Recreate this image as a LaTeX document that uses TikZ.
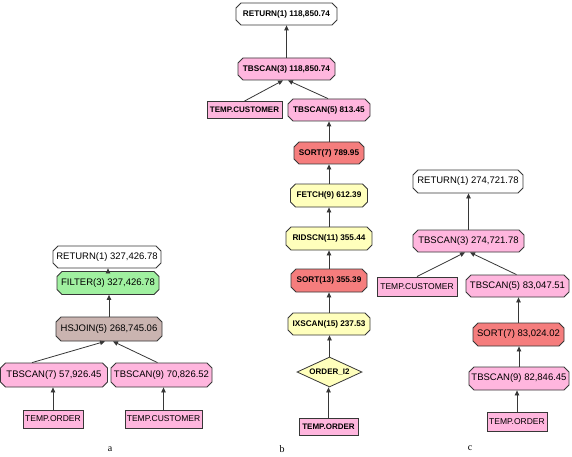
\documentclass[tikz,border=0pt]{standalone}
\usepackage{fontspec}
\setmainfont{Liberation Sans}
\newfontfamily\lblfont{Liberation Serif}
\usetikzlibrary{shapes.misc,shapes.geometric,arrows.meta}
\definecolor{pinkc}{RGB}{255,182,222}
\definecolor{greenc}{RGB}{160,240,160}
\definecolor{brownc}{RGB}{202,180,176}
\definecolor{redc}{RGB}{245,125,125}
\definecolor{yellowc}{RGB}{255,255,188}
\definecolor{edgec}{RGB}{55,55,55}
\tikzset{
  op/.style={chamfered rectangle, chamfered rectangle xsep=2.5pt, chamfered rectangle ysep=2.5pt,
    draw=edgec, line width=0.8pt, inner sep=0pt, font=\fontsize{9.5}{10}\selectfont},
  opb/.style={op, font=\fontsize{8.2}{9}\selectfont\bfseries},
  tbl/.style={rectangle, draw=edgec, line width=0.9pt, inner sep=0pt, fill=pinkc,
    font=\fontsize{8.5}{9}\selectfont},
  tblb/.style={tbl, font=\fontsize{8}{9}\selectfont\bfseries},
  idx/.style={diamond, aspect=2.2, draw=edgec, line width=0.8pt, inner sep=0pt, fill=yellowc,
    font=\fontsize{8}{9}\selectfont\bfseries},
  conn/.style={-{Triangle[length=5pt,width=4.5pt]}, draw=edgec, line width=0.8pt},
  lbl/.style={font=\lblfont\fontsize{10}{11}\selectfont, inner sep=0pt}
}
\begin{document}
\begin{tikzpicture}[x=1pt,y=-1pt]
\useasboundingbox[fill=white] (0,0) rectangle (572,457);
% ---------- a ----------
\node[op, fill=white, minimum width=108pt, minimum height=22pt] (aret) at (107,257) {RETURN(1) 327,426.78};
\node[op, fill=greenc, minimum width=102pt, minimum height=23pt] (afil) at (108,283) {FILTER(3) 327,426.78};
\node[op, fill=brownc, minimum width=106pt, minimum height=24pt] (ahs) at (109,329) {HSJOIN(5) 268,745.06};
\node[op, fill=pinkc, minimum width=107pt, minimum height=24pt] (at7) at (54,375) {TBSCAN(7) 57,926.45};
\node[op, fill=pinkc, minimum width=101pt, minimum height=24pt] (at9) at (161.5,375) {TBSCAN(9) 70,826.52};
\node[tbl, minimum width=60pt, minimum height=18pt] (ato) at (53,419) {TEMP.ORDER};
\node[tbl, minimum width=77pt, minimum height=18pt] (atc) at (163.5,419) {TEMP.CUSTOMER};
\node[lbl] (la) at (110,449) {a};
\draw[conn] (afil.north) -- (afil.north |- aret.south);
\draw[conn] (ahs.north) -- (ahs.north |- afil.south);
\draw[conn] ([xshift=-22pt]at7.north) -- ([xshift=-4pt]ahs.south);
\draw[conn] ([xshift=-4pt]at9.north) -- ([xshift=4pt]ahs.south);
\draw[conn] (ato.north) -- (ato.north |- at7.south);
\draw[conn] (atc.north) -- (atc.north |- at9.south);
% ---------- b ----------
\node[opb, fill=white, minimum width=101pt, minimum height=22pt] (bret) at (286.5,14) {RETURN(1) 118,850.74};
\node[opb, fill=pinkc, minimum width=97pt, minimum height=22pt] (bt3) at (286.5,69) {TBSCAN(3) 118,850.74};
\node[tblb, minimum width=75pt, minimum height=17pt] (bc) at (244.5,110) {TEMP.CUSTOMER};
\node[opb, fill=pinkc, minimum width=82pt, minimum height=22pt] (bt5) at (329,110) {TBSCAN(5) 813.45};
\node[opb, fill=redc, minimum width=70pt, minimum height=22pt] (bs7) at (329,153) {SORT(7) 789.95};
\node[opb, fill=yellowc, minimum width=77pt, minimum height=23pt] (bf9) at (329,195.5) {FETCH(9) 612.39};
\node[opb, fill=yellowc, minimum width=86pt, minimum height=23pt] (brid) at (329,238.5) {RIDSCN(11) 355.44};
\node[opb, fill=redc, minimum width=76pt, minimum height=23pt] (bs13) at (329,280.5) {SORT(13) 355.39};
\node[opb, fill=yellowc, minimum width=82pt, minimum height=22pt] (bix) at (329,324) {IXSCAN(15) 237.53};
\node[idx, minimum width=65pt, minimum height=30pt] (bdi) at (329.5,372) {ORDER\_I2};
\node[tblb, minimum width=59pt, minimum height=17pt] (bto) at (328.5,426.5) {TEMP.ORDER};
\node[lbl] (lb) at (282,449) {b};
\draw[conn] (bt3.north) -- (bt3.north |- bret.south);
\draw[conn] (bc.north) -- ([xshift=-3.5pt]bt3.south);
\draw[conn] ([xshift=-1pt]bt5.north) -- ([xshift=1.5pt]bt3.south);
\draw[conn] (bs7.north) -- (bs7.north |- bt5.south);
\draw[conn] (bf9.north) -- (bf9.north |- bs7.south);
\draw[conn] (brid.north) -- (brid.north |- bf9.south);
\draw[conn] (bs13.north) -- (bs13.north |- brid.south);
\draw[conn] (bix.north) -- (bix.north |- bs13.south);
\draw[conn] (bdi.north) -- (bdi.north |- bix.south);
\draw[conn] (bto.north) -- (bto.north |- bdi.south);
% ---------- c ----------
\node[op, fill=white, minimum width=110pt, minimum height=23pt] (cret) at (468,181.5) {RETURN(1) 274,721.78};
\node[op, fill=pinkc, minimum width=111pt, minimum height=22pt] (ct3) at (468.5,241) {TBSCAN(3) 274,721.78};
\node[tbl, minimum width=80pt, minimum height=19pt] (cc) at (417,286.5) {TEMP.CUSTOMER};
\node[op, fill=pinkc, minimum width=103pt, minimum height=22pt] (ct5) at (517.5,286) {TBSCAN(5) 83,047.51};
\node[op, fill=redc, minimum width=91pt, minimum height=23pt] (cs7) at (518.5,334.5) {SORT(7) 83,024.02};
\node[op, fill=pinkc, minimum width=96pt, minimum height=23pt] (ct9) at (519,378.5) {TBSCAN(9) 82,846.45};
\node[tbl, minimum width=60pt, minimum height=19pt] (cto) at (517,421.5) {TEMP.ORDER};
\node[lbl] (lc) at (470,448) {c};
\draw[conn] (ct3.north) -- (ct3.north |- cret.south);
\draw[conn] (cc.north) -- ([xshift=-3.5pt]ct3.south);
\draw[conn] ([xshift=-1pt]ct5.north) -- ([xshift=1.5pt]ct3.south);
\draw[conn] (cs7.north) -- (cs7.north |- ct5.south);
\draw[conn] (ct9.north) -- (ct9.north |- cs7.south);
\draw[conn] (cto.north) -- (cto.north |- ct9.south);
\end{tikzpicture}
\end{document}
